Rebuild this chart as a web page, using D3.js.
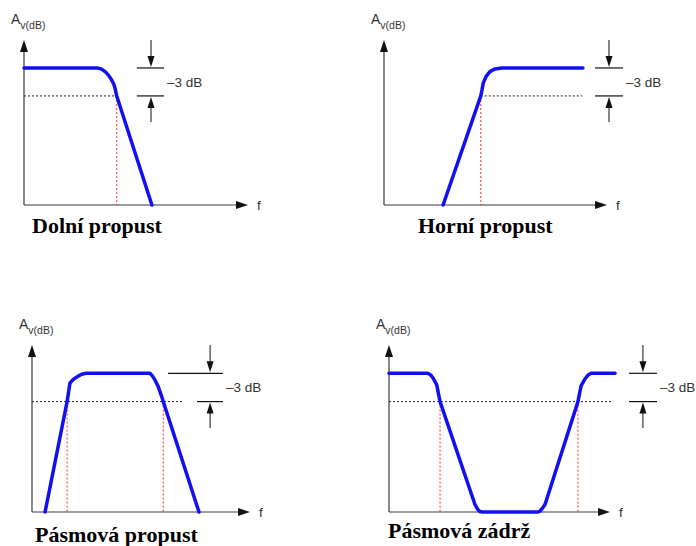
<!DOCTYPE html>
<html>
<head>
<meta charset="utf-8">
<script src="https://cdn.jsdelivr.net/npm/d3@7"></script>
<style>
  body { margin: 0; background: #fff; }
  svg { display: block; }
</style>
</head>
<body>
<div id="chart"></div>
<script>
// frequency in arbitrary units (0..10 along each axis), gain in dB
const titles = ["Dolní propust", "Horní propust", "Pásmová propust", "Pásmová zádrž"];

const lowPassF  = [0, 3.26, 3.45, 3.62, 3.78, 3.91, 4.0, 4.06, 4.14, 5.71];
const lowPassDb = [0, 0, -0.1, -0.39, -0.8, -1.28, -1.7, -2.14, -3, -14.7];

const highPassF  = [2.65, 4.34, 4.4, 4.45, 4.58, 4.75, 4.98, 5.28, 8.92];
const highPassDb = [-14.7, -3, -2.3, -1.63, -0.9, -0.39, -0.1, 0, 0];

const bandPassF  = [0.6, 1.61, 1.74, 1.85, 1.97, 2.12, 2.28, 2.48, 5.41, 5.53, 5.64, 5.79, 5.95, 6.02, 7.66];
const bandPassDb = [-14.7, -3, -1.05, -0.75, -0.52, -0.3, -0.1, 0, 0, -0.3, -0.7, -1.41, -2.47, -3, -14.7];

const bandStopF  = [0, 1.76, 1.9, 2.0, 2.16, 2.31, 3.89, 3.97, 4.04, 4.12, 4.21, 6.74, 6.83, 6.91, 7.06, 8.55, 8.69, 8.87, 9.0, 9.14, 10.23];
const bandStopDb = [0, 0, -0.2, -0.52, -1.23, -3, -13.9, -14.25, -14.5, -14.65, -14.7, -14.7, -14.6, -14.4, -13.9, -3, -1.34, -0.6, -0.2, 0, 0];

const cutoffs = [[4.14], [4.34], [1.61, 6.02], [2.31, 8.55]];
// extent of the dotted -3 dB reference line
const refLineF = [[0, 4.14], [4.34, 8.89], [0, 6.88], [0, 10.14]];
// -3 dB marker: [line start (upper), line start (lower), line end, arrow x]
const markerF = [[5.04, 5.04, 6.25, 5.67], [9.46, 9.46, 10.72, 10.09], [6.24, 7.57, 8.76, 8.17], [10.86, 10.86, 12.13, 11.49]];

const passDb = 0;
const cutoffDb = -3;
const arrowTopDb = 3;
const arrowBottomDb = -5.8;
const dbDomain = [-14.7, 3];
const fDomain = [0, 10];

const curves = [
    lowPassF.map((f, i) => [f, lowPassDb[i]]),
    highPassF.map((f, i) => [f, highPassDb[i]]),
    bandPassF.map((f, i) => [f, bandPassDb[i]]),
    bandStopF.map((f, i) => [f, bandStopDb[i]])
];

const layout = [
    { x0: 24, x1: 248, yb: 205, yt: 40, title: [32, 233] },
    { x0: 384, x1: 607, yb: 205, yt: 40, title: [418, 233] },
    { x0: 32, x1: 250, yb: 512, yt: 345, title: [35, 542] },
    { x0: 389, x1: 610, yb: 512, yt: 345, title: [388, 538] }
];

const width = 696, height = 546;
const svg = d3.select("#chart")
    .append("svg")
    .attr("width", width)
    .attr("height", height);

const axisColor = "#3a3a3a";
const textColor = "#333";
const blue = "#1010f2";

function arrowHead(g, x, y, dir, len, w) {
    // dir: "up", "down", "right"
    let p;
    if (dir === "up") p = [[x, y], [x - w / 2, y + len], [x + w / 2, y + len]];
    else if (dir === "down") p = [[x, y], [x - w / 2, y - len], [x + w / 2, y - len]];
    else p = [[x, y], [x - len, y - w / 2], [x - len, y + w / 2]];
    g.append("path")
        .attr("d", "M" + p.map(q => q.join(",")).join("L") + "Z")
        .attr("fill", "#111");
}

layout.forEach((L, i) => {
    const x = d3.scaleLinear().domain(fDomain).range([L.x0, L.x1]);
    const y = d3.scaleLinear().domain(dbDomain).range([L.yb, L.yt]);
    const g = svg.append("g").attr("class", "panel");

    // reference -3 dB dotted line
    g.append("line")
        .attr("x1", x(refLineF[i][0]))
        .attr("x2", x(refLineF[i][1]))
        .attr("y1", y(cutoffDb))
        .attr("y2", y(cutoffDb))
        .attr("stroke", "#222")
        .attr("stroke-width", 1)
        .attr("stroke-dasharray", "2,2");

    // red cutoff lines
    g.selectAll("line.cutoff")
        .data(cutoffs[i])
        .join("line")
        .attr("class", "cutoff")
        .attr("x1", d => x(d))
        .attr("x2", d => x(d))
        .attr("y1", y(cutoffDb))
        .attr("y2", y(dbDomain[0]))
        .attr("stroke", "#ff2a2a")
        .attr("stroke-width", 1)
        .attr("stroke-dasharray", "2,2");

    // axes
    g.append("line")
        .attr("x1", x(0)).attr("x2", x(fDomain[1]) - 8)
        .attr("y1", y(dbDomain[0])).attr("y2", y(dbDomain[0]))
        .attr("stroke", axisColor).attr("stroke-width", 1.2);
    g.append("line")
        .attr("x1", x(0)).attr("x2", x(0))
        .attr("y1", y(dbDomain[0])).attr("y2", y(dbDomain[1]) + 8)
        .attr("stroke", axisColor).attr("stroke-width", 1.2);
    arrowHead(g, x(fDomain[1]), y(dbDomain[0]), "right", 12, 8);
    arrowHead(g, x(0), y(dbDomain[1]), "up", 12, 8);

    // response curve
    g.append("path")
        .datum(curves[i])
        .attr("fill", "none")
        .attr("stroke", blue)
        .attr("stroke-width", 3.5)
        .attr("stroke-linejoin", "round")
        .attr("stroke-linecap", "round")
        .attr("d", d3.line()
            .x(d => x(d[0]))
            .y(d => y(d[1])));

    // -3 dB marker
    const m = markerF[i];
    g.append("line")
        .attr("x1", x(m[0])).attr("x2", x(m[2]))
        .attr("y1", y(passDb)).attr("y2", y(passDb))
        .attr("stroke", "#111").attr("stroke-width", 1.2);
    g.append("line")
        .attr("x1", x(m[1])).attr("x2", x(m[2]))
        .attr("y1", y(cutoffDb)).attr("y2", y(cutoffDb))
        .attr("stroke", "#111").attr("stroke-width", 1.2);
    g.append("line")
        .attr("x1", x(m[3])).attr("x2", x(m[3]))
        .attr("y1", y(arrowTopDb)).attr("y2", y(passDb) - 8)
        .attr("stroke", "#111").attr("stroke-width", 1);
    arrowHead(g, x(m[3]), y(passDb) - 1, "down", 11, 7);
    g.append("line")
        .attr("x1", x(m[3])).attr("x2", x(m[3]))
        .attr("y1", y(arrowBottomDb)).attr("y2", y(cutoffDb) + 8)
        .attr("stroke", "#111").attr("stroke-width", 1);
    arrowHead(g, x(m[3]), y(cutoffDb) + 1, "up", 11, 7);

    g.append("text")
        .attr("x", x(m[2]) + 3)
        .attr("y", (y(passDb) + y(cutoffDb)) / 2 + 5)
        .attr("font-family", "Arial, 'Liberation Sans', sans-serif")
        .attr("font-size", 13.5)
        .attr("fill", textColor)
        .text("\u20133 dB");

    // axis labels
    const a = g.append("text")
        .attr("x", x(0) - 13)
        .attr("y", y(dbDomain[1]) - 16)
        .attr("font-family", "Arial, 'Liberation Sans', sans-serif")
        .attr("font-size", 14)
        .attr("fill", textColor)
        .text("A");
    a.append("tspan")
        .attr("font-size", 10.5)
        .attr("dy", 5)
        .text("v(dB)");

    g.append("text")
        .attr("x", x(fDomain[1]) + 9)
        .attr("y", y(dbDomain[0]) + 5)
        .attr("font-family", "Arial, 'Liberation Sans', sans-serif")
        .attr("font-size", 13.5)
        .attr("fill", textColor)
        .text("f");

    // title
    g.append("text")
        .attr("x", L.title[0])
        .attr("y", L.title[1])
        .attr("font-family", "'Times New Roman', 'Liberation Serif', serif")
        .attr("font-weight", "bold")
        .attr("font-size", 22)
        .attr("fill", "#000")
        .text(titles[i]);
});
</script>
</body>
</html>
